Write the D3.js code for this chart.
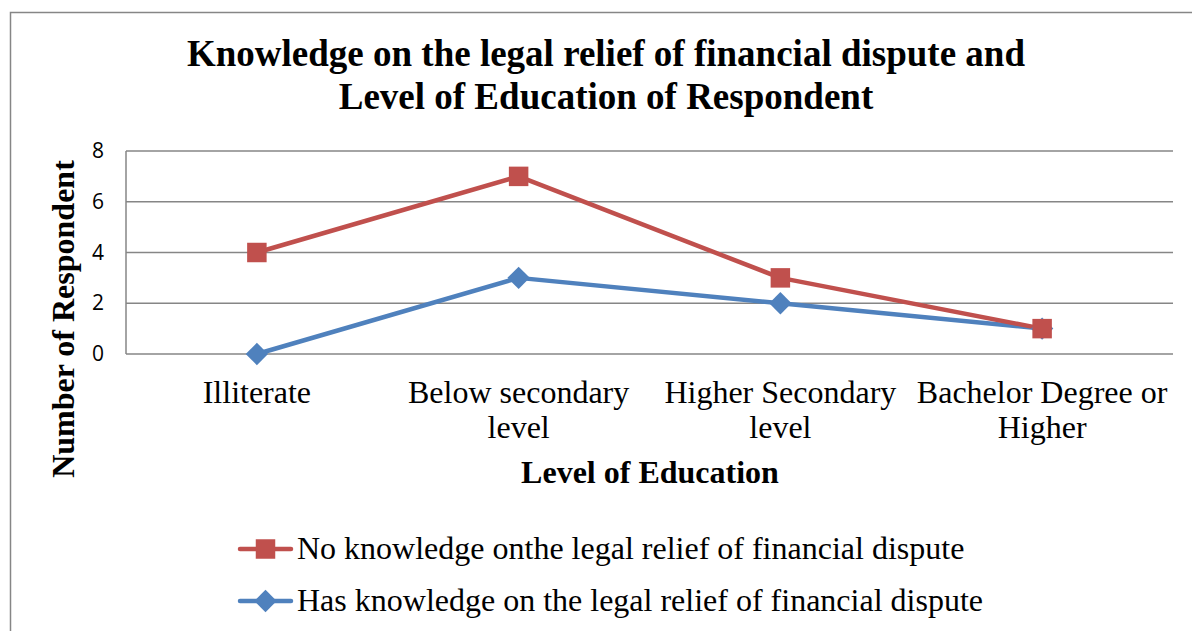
<!DOCTYPE html>
<html>
<head>
<meta charset="utf-8">
<script src="https://cdn.jsdelivr.net/npm/d3@7"></script>
<style>
  html, body { margin: 0; padding: 0; background: #fff; }
  svg { display: block; }
</style>
</head>
<body>
<svg id="chart" width="1192" height="631"></svg>
<script>
// Education levels (category axis)
const categories = [
  ["Illiterate"],
  ["Below secondary", "level"],
  ["Higher Secondary", "level"],
  ["Bachelor Degree or", "Higher"]
];
const categoryKeys = ["Illiterate", "Below secondary level", "Higher Secondary level", "Bachelor Degree or Higher"];

// Respondent counts per series
const noKnowledge = [4, 7, 3, 1];
const hasKnowledge = [0, 3, 2, 1];

const yTicks = [0, 2, 4, 6, 8];

const seriesNames = [
  "No knowledge onthe legal relief of financial dispute",
  "Has knowledge on the legal relief of financial dispute"
];

const svg = d3.select("#chart");
const W = 1192, H = 631;
const serif = "'Liberation Serif', 'Times New Roman', serif";

// Chart frame
svg.append("rect")
  .attr("x", 10.5).attr("y", 12.5)
  .attr("width", W + 10).attr("height", H + 10)
  .attr("fill", "#fff").attr("stroke", "#868686").attr("stroke-width", 1.5);

const plot = { left: 126, right: 1173, top: 151, bottom: 354 };

const x = d3.scaleBand().domain(categoryKeys).range([plot.left, plot.right]);
const y = d3.scaleLinear().domain([0, 8]).range([plot.bottom, plot.top]);

// Gridlines
svg.append("g").selectAll("line").data(yTicks).join("line")
  .attr("x1", plot.left).attr("x2", plot.right)
  .attr("y1", d => y(d)).attr("y2", d => y(d))
  .attr("stroke", "#868686").attr("stroke-width", 1.5);

// Vertical axis line
svg.append("line")
  .attr("x1", plot.left).attr("x2", plot.left)
  .attr("y1", plot.top).attr("y2", plot.bottom)
  .attr("stroke", "#868686").attr("stroke-width", 1.5);

// Y tick labels
const yAxis = d3.axisLeft(y).tickValues(yTicks).tickSize(0).tickPadding(22);
const yg = svg.append("g").attr("transform", `translate(${plot.left},0)`).call(yAxis);
yg.select(".domain").remove();
yg.selectAll("text")
  .attr("font-family", "'Open Sans', 'Liberation Sans', sans-serif")
  .attr("font-size", 21).attr("fill", "#000");

// Category labels
const catG = svg.append("g");
categoryKeys.forEach((k, i) => {
  const cxk = x(k) + x.bandwidth() / 2;
  const t = catG.append("text")
    .attr("x", cxk)
    .attr("y", 403)
    .attr("text-anchor", "middle")
    .attr("font-family", serif)
    .attr("font-size", 32).attr("fill", "#000");
  categories[i].forEach((line, j) => {
    t.append("tspan").attr("x", cxk).attr("dy", j === 0 ? 0 : 35).text(line);
  });
});

// Title
const title = svg.append("text")
  .attr("x", 606).attr("y", 66)
  .attr("text-anchor", "middle")
  .attr("font-family", serif)
  .attr("font-weight", "bold").attr("font-size", 37).attr("fill", "#000");
title.append("tspan").attr("x", 606).attr("dy", 0).text("Knowledge on the legal relief of financial dispute and");
title.append("tspan").attr("x", 606).attr("dy", 43).text("Level of Education of Respondent");

// Axis titles
svg.append("text")
  .attr("x", 650).attr("y", 483)
  .attr("text-anchor", "middle")
  .attr("font-family", serif)
  .attr("font-weight", "bold").attr("font-size", 32).attr("fill", "#000")
  .text("Level of Education");

svg.append("text")
  .attr("transform", "translate(74,319) rotate(-90)")
  .attr("text-anchor", "middle")
  .attr("font-family", serif)
  .attr("font-weight", "bold").attr("font-size", 32).attr("fill", "#000")
  .text("Number of Respondent");

const colors = ["#C0504D", "#4F81BD"];
const seriesData = [noKnowledge, hasKnowledge];
const cx = (i) => x(categoryKeys[i]) + x.bandwidth() / 2;

const line = d3.line().x((d, i) => cx(i)).y(d => y(d));

// Square marker for the red series, square rotated 45° for the blue series
const square = d3.symbol().type(d3.symbolSquare).size(380)();
const diamond = d3.symbol().type(d3.symbolSquare).size(250)();
const shapes = [square, diamond];
const rot = [0, 45];

// Draw blue first so the red line sits on top where they meet
[1, 0].forEach(s => {
  svg.append("path")
    .datum(seriesData[s])
    .attr("d", line)
    .attr("fill", "none")
    .attr("stroke", colors[s])
    .attr("stroke-width", 4.5)
    .attr("stroke-linejoin", "round")
    .attr("stroke-linecap", "round");
});
[1, 0].forEach(s => {
  svg.append("g").selectAll("path").data(seriesData[s]).join("path")
    .attr("d", shapes[s])
    .attr("transform", (d, i) => `translate(${cx(i)},${y(d)}) rotate(${rot[s]})`)
    .attr("fill", colors[s]);
});

// Legend
const legendRows = [549, 601];
seriesNames.forEach((name, s) => {
  const ly = legendRows[s];
  svg.append("line")
    .attr("x1", 240).attr("x2", 291).attr("y1", ly).attr("y2", ly)
    .attr("stroke", colors[s]).attr("stroke-width", 4.5).attr("stroke-linecap", "round");
  svg.append("path")
    .attr("d", shapes[s])
    .attr("transform", `translate(265.5,${ly}) rotate(${rot[s]})`)
    .attr("fill", colors[s]);
  svg.append("text")
    .attr("x", 297).attr("y", ly + 10)
    .attr("font-family", serif)
    .attr("font-size", 32).attr("fill", "#000")
    .text(name);
});
</script>
</body>
</html>
